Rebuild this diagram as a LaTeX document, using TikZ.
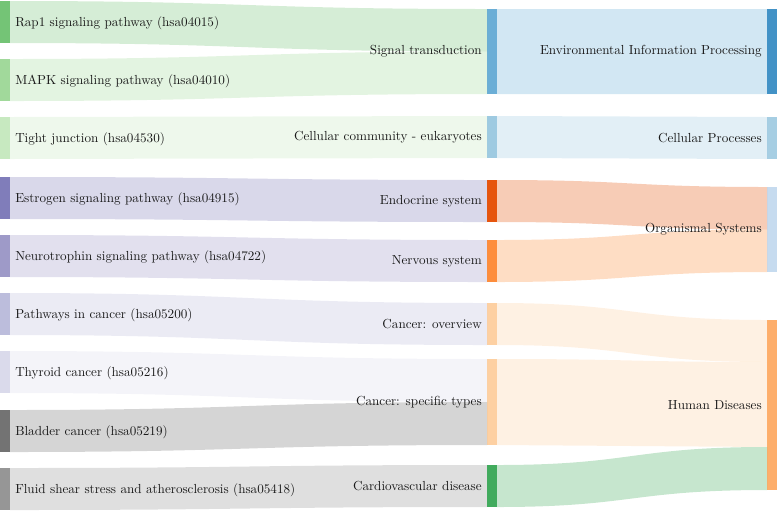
\documentclass[tikz,border=0pt]{standalone}
\usetikzlibrary{calc}
\definecolor{txt}{HTML}{1A1A1A}
\definecolor{cRap}{HTML}{74C476}
\definecolor{cMapk}{HTML}{A1D99B}
\definecolor{cTight}{HTML}{C7E9C0}
\definecolor{cEstro}{HTML}{807DBA}
\definecolor{cNeuro}{HTML}{9E9AC8}
\definecolor{cPic}{HTML}{BCBDDC}
\definecolor{cThy}{HTML}{DADAEB}
\definecolor{cBlad}{HTML}{737373}
\definecolor{cFluid}{HTML}{969696}
\definecolor{cSig}{HTML}{6BAED6}
\definecolor{cCom}{HTML}{9ECAE1}
\definecolor{cEndo}{HTML}{E6550D}
\definecolor{cNerv}{HTML}{FD8D3C}
\definecolor{cCan}{HTML}{FDD0A2}
\definecolor{cCard}{HTML}{41AB5D}
\definecolor{cEnv}{HTML}{4292C6}
\definecolor{cProc}{HTML}{A6CEE3}
\definecolor{cOrg}{HTML}{C6DBEF}
\definecolor{cHD}{HTML}{FDAE6B}
\newcommand\mybar[5]{\node[bar, fill=#5, minimum height={(#4-#3)*0.75pt}] (#1) at ({#2+5},{(#3+#4)/2}) {};}
\newcommand\myflow[6]{\fill[fill=#5, fill opacity=.3] (#1) .. controls +(#6,0) and +(-#6,0) .. (#3) -- (#4) .. controls +(-#6,0) and +(#6,0) .. (#2) -- cycle;}
\begin{document}
\begin{tikzpicture}[x=0.75pt,y=-0.75pt,
  bar/.style={rectangle, draw=none, inner sep=0pt, outer sep=0pt, minimum width=7.5pt},
  lbl/.style={font=\fontsize{9.85}{12}\selectfont, text=txt, inner sep=0pt}]
\useasboundingbox (0,0) rectangle (777,512);
% left bars
\mybar{rap1}{0}{1}{43}{cRap}
\mybar{mapk}{0}{59}{101}{cMapk}
\mybar{tight}{0}{117}{159}{cTight}
\mybar{estro}{0}{177}{219}{cEstro}
\mybar{neuro}{0}{235}{277}{cNeuro}
\mybar{pic}{0}{293}{335}{cPic}
\mybar{thy}{0}{351}{393}{cThy}
\mybar{blad}{0}{410}{452}{cBlad}
\mybar{fluid}{0}{468}{510}{cFluid}
% middle bars
\mybar{sig}{487}{9}{94}{cSig}
\mybar{com}{487}{116}{158}{cCom}
\mybar{endo}{487}{180}{222}{cEndo}
\mybar{nerv}{487}{240}{282}{cNerv}
\mybar{canov}{487}{303}{345}{cCan}
\mybar{canspec}{487}{359}{445}{cCan}
\mybar{card}{487}{465}{507}{cCard}
% right bars
\mybar{env}{767}{9}{94}{cEnv}
\mybar{proc}{767}{117}{159}{cProc}
\mybar{org}{767}{187}{272}{cOrg}
\mybar{hd}{767}{320}{490}{cHD}
\coordinate (hd1) at ($(hd.north west)!0.247!(hd.south west)$);
\coordinate (hd2) at ($(hd.north west)!0.747!(hd.south west)$);
% left flows
\myflow{rap1.north east}{rap1.south east}{sig.north west}{sig.west}{cRap}{239}
\myflow{mapk.north east}{mapk.south east}{sig.west}{sig.south west}{cMapk}{239}
\myflow{tight.north east}{tight.south east}{com.north west}{com.south west}{cTight}{239}
\myflow{estro.north east}{estro.south east}{endo.north west}{endo.south west}{cEstro}{239}
\myflow{neuro.north east}{neuro.south east}{nerv.north west}{nerv.south west}{cNeuro}{239}
\myflow{pic.north east}{pic.south east}{canov.north west}{canov.south west}{cPic}{239}
\myflow{thy.north east}{thy.south east}{canspec.north west}{canspec.west}{cThy}{239}
\myflow{blad.north east}{blad.south east}{canspec.west}{canspec.south west}{cBlad}{239}
\myflow{fluid.north east}{fluid.south east}{card.north west}{card.south west}{cFluid}{239}
% right flows
\myflow{sig.north east}{sig.south east}{env.north west}{env.south west}{cSig}{135}
\myflow{com.north east}{com.south east}{proc.north west}{proc.south west}{cCom}{135}
\myflow{endo.north east}{endo.south east}{org.north west}{org.west}{cEndo}{135}
\myflow{nerv.north east}{nerv.south east}{org.west}{org.south west}{cNerv}{135}
\myflow{canov.north east}{canov.south east}{hd.north west}{hd1}{cCan}{135}
\myflow{canspec.north east}{canspec.south east}{hd1}{hd2}{cCan}{135}
\myflow{card.north east}{card.south east}{hd2}{hd.south west}{cCard}{135}
% left labels
\node[lbl, anchor=west] (rap1-t) at ([xshift=3.75pt,yshift=-0.6pt]rap1.east) {Rap1 signaling pathway (hsa04015)};
\node[lbl, anchor=west] (mapk-t) at ([xshift=3.75pt,yshift=-0.6pt]mapk.east) {MAPK signaling pathway (hsa04010)};
\node[lbl, anchor=west] (tight-t) at ([xshift=3.75pt,yshift=-0.6pt]tight.east) {Tight junction (hsa04530)};
\node[lbl, anchor=west] (estro-t) at ([xshift=3.75pt,yshift=-0.6pt]estro.east) {Estrogen signaling pathway (hsa04915)};
\node[lbl, anchor=west] (neuro-t) at ([xshift=3.75pt,yshift=-0.6pt]neuro.east) {Neurotrophin signaling pathway (hsa04722)};
\node[lbl, anchor=west] (pic-t) at ([xshift=3.75pt,yshift=-0.6pt]pic.east) {Pathways in cancer (hsa05200)};
\node[lbl, anchor=west] (thy-t) at ([xshift=3.75pt,yshift=-0.6pt]thy.east) {Thyroid cancer (hsa05216)};
\node[lbl, anchor=west] (blad-t) at ([xshift=3.75pt,yshift=-0.6pt]blad.east) {Bladder cancer (hsa05219)};
\node[lbl, anchor=west] (fluid-t) at ([xshift=3.75pt,yshift=-0.6pt]fluid.east) {Fluid shear stress and atherosclerosis (hsa05418)};
% middle labels
\node[lbl, anchor=east] (sig-t) at ([xshift=-3.75pt]sig.west) {Signal transduction};
\node[lbl, anchor=east] (com-t) at ([xshift=-3.75pt]com.west) {Cellular community - eukaryotes};
\node[lbl, anchor=east] (endo-t) at ([xshift=-3.75pt]endo.west) {Endocrine system};
\node[lbl, anchor=east] (nerv-t) at ([xshift=-3.75pt]nerv.west) {Nervous system};
\node[lbl, anchor=east] (canov-t) at ([xshift=-3.75pt]canov.west) {Cancer: overview};
\node[lbl, anchor=east] (canspec-t) at ([xshift=-3.75pt]canspec.west) {Cancer: specific types};
\node[lbl, anchor=east] (card-t) at ([xshift=-3.75pt]card.west) {Cardiovascular disease};
% right labels
\node[lbl, anchor=east] (env-t) at ([xshift=-3.75pt]env.west) {Environmental Information Processing};
\node[lbl, anchor=east] (proc-t) at ([xshift=-3.75pt]proc.west) {Cellular Processes};
\node[lbl, anchor=east] (org-t) at ([xshift=-3.75pt]org.west) {Organismal Systems};
\node[lbl, anchor=east] (hd-t) at ([xshift=-3.75pt]hd.west) {Human Diseases};
\end{tikzpicture}
\end{document}
